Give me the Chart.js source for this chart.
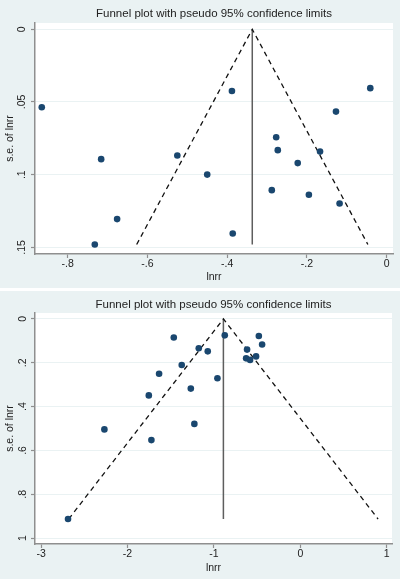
<!DOCTYPE html>
<html>
<head>
<meta charset="utf-8">
<script src="https://cdn.jsdelivr.net/npm/chart.js@4.4.1/dist/chart.umd.min.js"></script>
<style>
  body { margin: 0; background: #fff; }
  .panel { width: 400px; height: 288px; }
  #gap { height: 3px; }
</style>
</head>
<body>
<div class="panel"><canvas id="top" width="400" height="288"></canvas></div>
<div id="gap"></div>
<div class="panel"><canvas id="bottom" width="400" height="288"></canvas></div>
<script>
const titleText = "Funnel plot with pseudo 95% confidence limits";

// top panel
const topLnrr = [-0.865, -0.388, -0.041, -0.127, -0.277, -0.716, -0.525, -0.450, -0.273, -0.167, -0.223, -0.288, -0.195, -0.118, -0.676, -0.386, -0.732];
const topSe   = [0.0536, 0.0424, 0.0405, 0.0566, 0.0742, 0.0893, 0.0868, 0.0999, 0.0831, 0.0841, 0.0920, 0.1106, 0.1138, 0.1198, 0.1305, 0.1404, 0.1480];
const topFunnelX = [-0.627, -0.337, -0.047];
const topFunnelY = [0.148, 0, 0.148];
const topMidX = [-0.337, -0.337];
const topMidY = [0, 0.148];
const topXTicks = [-0.8, -0.6, -0.4, -0.2, 0];
const topXLabels = ["-.8", "-.6", "-.4", "-.2", "0"];
const topYTicks = [0, 0.05, 0.1, 0.15];
const topYLabels = ["0", ".05", ".1", ".15"];

// bottom panel
const botLnrr = [-1.464, -0.874, -0.480, -0.442, -1.175, -1.071, -0.616, -0.627, -0.581, -0.512, -1.372, -1.634, -0.959, -1.267, -1.753, -1.226, -2.267, -1.723, -2.688];
const botSe   = [0.085, 0.075, 0.078, 0.117, 0.134, 0.148, 0.140, 0.180, 0.187, 0.171, 0.210, 0.250, 0.271, 0.318, 0.349, 0.479, 0.504, 0.553, 0.913];
const botFunnelX = [-2.68, -0.89, 0.90];
const botFunnelY = [0.913, 0, 0.913];
const botMidX = [-0.89, -0.89];
const botMidY = [0, 0.913];
const botXTicks = [-3, -2, -1, 0, 1];
const botXLabels = ["-3", "-2", "-1", "0", "1"];
const botYTicks = [0, 0.2, 0.4, 0.6, 0.8, 1];
const botYLabels = ["0", ".2", ".4", ".6", ".8", "1"];

const BG = "#eaf2f3";
const AXIS = "#8f8f8f";
const TEXT = "#222";
const FONT = "'Liberation Sans', Arial, sans-serif";

const pts = (xs, ys) => xs.map((x, i) => ({ x: x, y: ys[i] }));

// background + white plot region, and the title centred over the plot
const stataLook = {
  id: "stataLook",
  beforeDraw(chart) {
    const { ctx, chartArea: a } = chart;
    ctx.save();
    ctx.fillStyle = BG;
    ctx.fillRect(0, 0, chart.width, chart.height);
    ctx.fillStyle = "#fff";
    ctx.fillRect(a.left, a.top, a.right - a.left, a.bottom - a.top);
    ctx.restore();
  },
  afterDraw(chart) {
    const { ctx, chartArea: a } = chart;
    ctx.save();
    ctx.fillStyle = TEXT;
    ctx.font = "11.5px " + FONT;
    ctx.textAlign = "center";
    ctx.textBaseline = "middle";
    ctx.fillText(titleText, (a.left + a.right) / 2, 14);
    ctx.restore();
  }
};

function funnel(id, p) {
  new Chart(document.getElementById(id), {
    type: "scatter",
    data: {
      datasets: [
        {
          data: pts(p.x, p.y),
          backgroundColor: "#1a476f",
          borderWidth: 0,
          pointRadius: 3.3,
          order: 0
        },
        {
          type: "line",
          data: pts(p.funnelX, p.funnelY),
          borderColor: "#111",
          borderWidth: 1.3,
          borderDash: [5, 4],
          pointRadius: 0,
          fill: false,
          order: 1
        },
        {
          type: "line",
          data: pts(p.midX, p.midY),
          borderColor: "#5e5e5e",
          borderWidth: 1.5,
          pointRadius: 0,
          fill: false,
          order: 1
        }
      ]
    },
    options: {
      responsive: false,
      animation: false,
      layout: { padding: { top: p.padTop, right: p.padRight, left: 0, bottom: 0 } },
      plugins: { legend: { display: false }, tooltip: { enabled: false } },
      scales: {
        x: {
          type: "linear",
          min: p.xMin,
          max: p.xMax,
          afterBuildTicks: (s) => { s.ticks = p.xTicks.map((v) => ({ value: v })); },
          afterFit: (s) => { s.height = p.xHeight; },
          ticks: {
            autoSkip: false,
            maxRotation: 0,
            padding: 0,
            color: TEXT,
            font: { family: FONT, size: 10.5 },
            callback: (v, i) => p.xLabels[i]
          },
          grid: { drawOnChartArea: false, tickLength: 4, tickColor: AXIS, tickWidth: 1.2 },
          border: { color: AXIS, width: 1.5 },
          title: { display: true, text: "lnrr", color: TEXT, font: { family: FONT, size: 10.5 }, padding: { top: 0, bottom: 5 } }
        },
        y: {
          type: "linear",
          reverse: true,
          min: p.yMin,
          max: p.yMax,
          afterBuildTicks: (s) => { s.ticks = p.yTicks.map((v) => ({ value: v })); },
          afterFit: (s) => { s.width = 35; },
          ticks: {
            autoSkip: false,
            minRotation: 90,
            maxRotation: 90,
            crossAlign: "center",
            padding: p.yPad,
            color: TEXT,
            font: { family: FONT, size: 10.5 },
            callback: (v, i) => p.yLabels[i]
          },
          grid: { color: BG, lineWidth: 1, tickLength: 4, tickColor: AXIS, tickWidth: 1.2 },
          border: { color: AXIS, width: 1.5 },
          title: { display: true, text: "s.e. of lnrr", color: TEXT, font: { family: FONT, size: 10.5 }, padding: { top: 4, bottom: 0 } }
        }
      }
    },
    plugins: [stataLook]
  });
}

funnel("top", {
  x: topLnrr, y: topSe,
  funnelX: topFunnelX, funnelY: topFunnelY, midX: topMidX, midY: topMidY,
  xMin: -0.882, xMax: 0.016, yMin: -0.0043, yMax: 0.1545,
  xTicks: topXTicks, xLabels: topXLabels, yTicks: topYTicks, yLabels: topYLabels,
  padTop: 23, padRight: 7, xHeight: 34, yPad: 2
});

funnel("bottom", {
  x: botLnrr, y: botSe,
  funnelX: botFunnelX, funnelY: botFunnelY, midX: botMidX, midY: botMidY,
  xMin: -3.07, xMax: 1.061, yMin: -0.027, yMax: 1.027,
  xTicks: botXTicks, xLabels: botXLabels, yTicks: botYTicks, yLabels: botYLabels,
  padTop: 22, padRight: 8, xHeight: 35, yPad: 4
});
</script>
</body>
</html>
